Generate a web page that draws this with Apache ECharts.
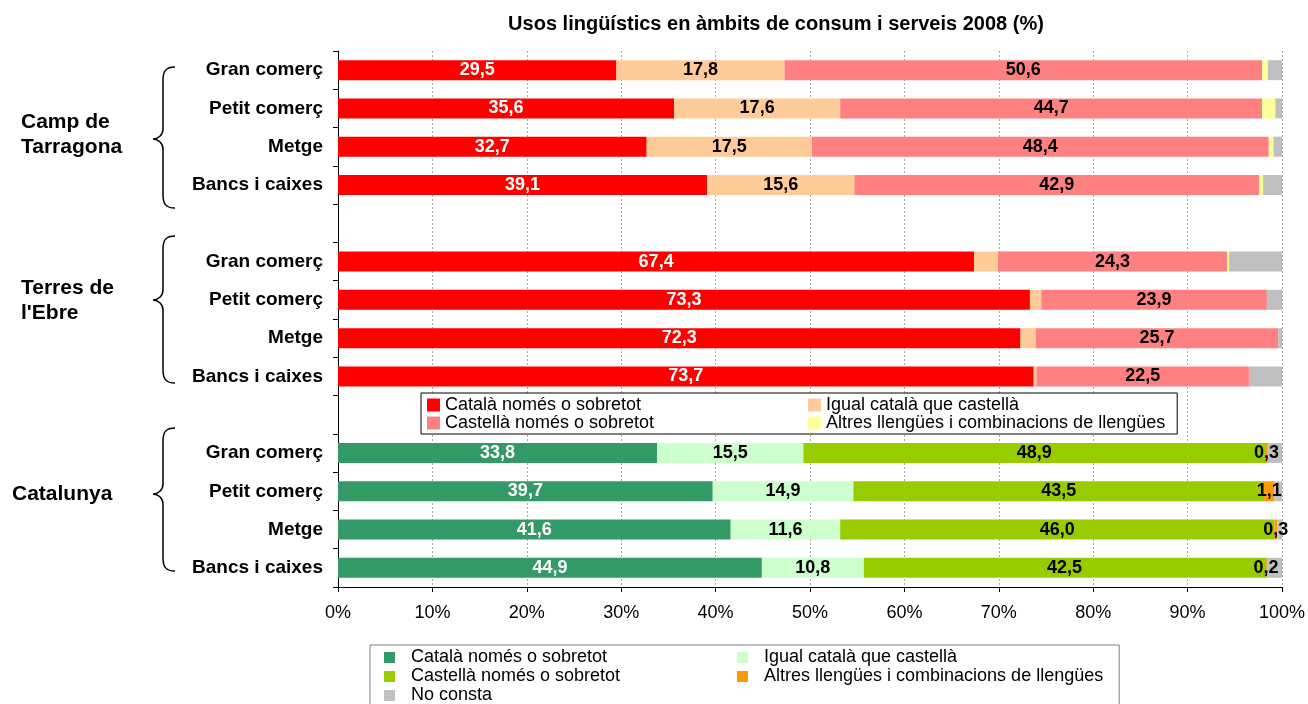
<!DOCTYPE html>
<html>
<head>
<meta charset="utf-8">
<script src="https://cdn.jsdelivr.net/npm/echarts@6/dist/echarts.min.js"></script>
<style>
html,body{margin:0;padding:0;background:#fff;}
#c{width:1308px;height:704px;}
</style>
</head>
<body>
<div id="c"></div>
<script>
// ---------- data ----------
const chartTitle = 'Usos lingüístics en àmbits de consum i serveis 2008 (%)';
const groupNames = ['Camp de\nTarragona', "Terres de\nl'Ebre", 'Catalunya'];
const categories = [
  'Gran comerç', 'Petit comerç', 'Metge', 'Bancs i caixes', '',
  'Gran comerç', 'Petit comerç', 'Metge', 'Bancs i caixes', '',
  'Gran comerç', 'Petit comerç', 'Metge', 'Bancs i caixes'
];

const legendNamesRegional = ['Català només o sobretot', 'Igual català que castellà', 'Castellà només o sobretot', 'Altres llengües i combinacions de llengües'];
const legendNamesCatalunya = ['Català només o sobretot', 'Igual català que castellà', 'Castellà només o sobretot', 'Altres llengües i combinacions de llengües', 'No consta'];

// Camp de Tarragona + Terres de l'Ebre rows
const catalaRegional   = [29.5, 35.6, 32.7, 39.1, null, 67.4, 73.3, 72.3, 73.7, null, null, null, null, null];
const igualRegional    = [17.8, 17.6, 17.5, 15.6, null,  2.5,  1.2,  1.6,  0.3, null, null, null, null, null];
const castellaRegional = [50.6, 44.7, 48.4, 42.9, null, 24.3, 23.9, 25.7, 22.5, null, null, null, null, null];
const altresRegional   = [ 0.6,  1.4,  0.5,  0.4, null,  0.2,  0.0,  0.0,  0.0, null, null, null, null, null];
// Catalunya rows
const catalaCat   = [null, null, null, null, null, null, null, null, null, null, 33.8, 39.7, 41.6, 44.9];
const igualCat    = [null, null, null, null, null, null, null, null, null, null, 15.5, 14.9, 11.6, 10.8];
const castellaCat = [null, null, null, null, null, null, null, null, null, null, 48.9, 43.5, 46.0, 42.5];
const altresCat   = [null, null, null, null, null, null, null, null, null, null,  0.3,  1.1,  0.3,  0.2];
// No consta (all rows)
const noConsta    = [1.5, 0.7, 0.9, 2.0, null, 5.6, 1.6, 0.4, 3.5, null, 1.5, 0.8, 0.5, 1.6];

// ---------- chart ----------
const FONT = '"Liberation Sans", Arial, Helvetica, sans-serif';
const axisKeys = categories.map((c, i) => i + '|' + c);
const fmt = v => v.toFixed(1).replace('.', ',');

const nameMap = {
  r0: legendNamesRegional[0], r1: legendNamesRegional[1], r2: legendNamesRegional[2], r3: legendNamesRegional[3],
  c0: legendNamesCatalunya[0], c1: legendNamesCatalunya[1], c2: legendNamesCatalunya[2], c3: legendNamesCatalunya[3],
  nc: legendNamesCatalunya[4]
};

function lbl(color, minVal) {
  return {
    show: true,
    position: 'inside',
    color: color,
    fontFamily: FONT,
    fontWeight: 'bold',
    fontSize: 18,
    formatter: p => (p.value == null || p.value < minVal) ? '' : fmt(p.value)
  };
}
function bar(id, data, color, label) {
  return {
    type: 'bar', name: id, stack: 'total', data: data, barWidth: 20,
    itemStyle: { color: color, borderWidth: 0 },
    label: label || { show: false },
    emphasis: { disabled: true },
    animation: false
  };
}

// curly brace decoration shape
echarts.graphic.registerShape('brace', echarts.graphic.extendShape({
  shape: { yt: 0, ym: 0, yb: 0, xr: 175, xl: 163, xt: 153 },
  buildPath: function (ctx, s) {
    const xr = s.xr, xl = s.xl, xt = s.xt, yt = s.yt, ym = s.ym, yb = s.yb;
    ctx.moveTo(xr, yt);
    ctx.bezierCurveTo(xl + 3, yt, xl, yt + 4, xl, yt + 13);
    ctx.lineTo(xl, ym - 10);
    ctx.bezierCurveTo(xl, ym - 4, xt + 5, ym, xt, ym);
    ctx.bezierCurveTo(xt + 5, ym, xl, ym + 4, xl, ym + 10);
    ctx.lineTo(xl, yb - 13);
    ctx.bezierCurveTo(xl, yb - 4, xl + 3, yb, xr, yb);
  }
}));

const chart = echarts.init(document.getElementById('c'), null, { renderer: 'canvas' });
const option = {
  backgroundColor: '#fff',
  animation: false,
  textStyle: { fontFamily: FONT },
  grid: { left: 338, right: 26, top: 51, bottom: 117, containLabel: false },
  xAxis: {
    type: 'value', min: 0, max: 100, interval: 10,
    axisLine: { show: true, lineStyle: { color: '#000', width: 1 } },
    axisTick: { show: true, length: 5, lineStyle: { color: '#000' } },
    axisLabel: { formatter: '{value}%', color: '#000', fontSize: 18, fontFamily: FONT, margin: 17 },
    splitLine: { show: true, lineStyle: { color: '#a8a8a8', type: [2, 2], width: 1 } }
  },
  yAxis: {
    type: 'category', inverse: true, data: axisKeys,
    axisLine: { show: true, lineStyle: { color: '#000', width: 1 } },
    axisTick: { show: true, length: 5, lineStyle: { color: '#000' } },
    axisLabel: {
      formatter: v => v.split('|')[1], color: '#000', fontSize: 19, fontWeight: 'bold',
      fontFamily: FONT, margin: 15
    },
    splitLine: { show: false }
  },
  legend: [
    {
      left: 421, top: 393, width: 770, orient: 'horizontal',
      padding: [3, 12, 2, 6], itemGap: 0, itemWidth: 13, itemHeight: 13, icon: 'rect',
      backgroundColor: '#fff', borderColor: '#000', borderWidth: 1, borderRadius: 0,
      selectedMode: false,
      itemStyle: { borderWidth: 0 },
      textStyle: { fontSize: 18, color: '#000', fontFamily: FONT, lineHeight: 18 },
      formatter: n => nameMap[n],
      data: [
        { name: 'r0', textStyle: { width: 363 } }, { name: 'r1' },
        { name: 'r2', textStyle: { width: 363 } }, { name: 'r3' }
      ]
    },
    {
      left: 370, top: 645, width: 740, orient: 'horizontal',
      padding: [3, 16, 3, 14], itemGap: 0, itemWidth: 11, itemHeight: 11, icon: 'rect',
      backgroundColor: '#fff', borderColor: '#808080', borderWidth: 1, borderRadius: 0,
      selectedMode: false,
      itemStyle: { borderWidth: 0 },
      textStyle: { fontSize: 18, color: '#000', fontFamily: FONT, lineHeight: 19, padding: [0, 0, 0, 11] },
      formatter: n => nameMap[n],
      data: [
        { name: 'c0', textStyle: { width: 326 } }, { name: 'c1' },
        { name: 'c2', textStyle: { width: 326 } }, { name: 'c3' },
        { name: 'nc' }
      ]
    }
  ],
  series: [
    bar('r0', catalaRegional, '#FF0000', lbl('#fff', 0)),
    bar('r1', igualRegional, '#FFCC99', lbl('#000', 5)),
    bar('r2', castellaRegional, '#FF8080', lbl('#000', 0)),
    bar('r3', altresRegional, '#FFFF99'),
    bar('c0', catalaCat, '#339966', lbl('#fff', 0)),
    bar('c1', igualCat, '#CCFFCC', lbl('#000', 0)),
    bar('c2', castellaCat, '#99CC00', lbl('#000', 0)),
    bar('c3', altresCat, '#FF9900', lbl('#000', 0)),
    bar('nc', noConsta, '#C0C0C0')
  ],
  graphic: [
    { type: 'text', x: 776, y: 24, silent: true,
      style: { text: chartTitle, fill: '#000', font: 'bold 20px ' + FONT, align: 'center', verticalAlign: 'middle' } },
    { type: 'text', x: 21, y: 135, silent: true,
      style: { text: groupNames[0], fill: '#000', font: 'bold 21px ' + FONT, lineHeight: 25, align: 'left', verticalAlign: 'middle' } },
    { type: 'text', x: 21, y: 301, silent: true,
      style: { text: groupNames[1], fill: '#000', font: 'bold 21px ' + FONT, lineHeight: 25, align: 'left', verticalAlign: 'middle' } },
    { type: 'text', x: 12, y: 494, silent: true,
      style: { text: groupNames[2], fill: '#000', font: 'bold 21px ' + FONT, lineHeight: 25, align: 'left', verticalAlign: 'middle' } },
    { type: 'brace', silent: true, shape: { yt: 67, ym: 139, yb: 208 },
      style: { stroke: '#000', fill: null, lineWidth: 1.5 } },
    { type: 'brace', silent: true, shape: { yt: 236, ym: 300, yb: 383 },
      style: { stroke: '#000', fill: null, lineWidth: 1.5 } },
    { type: 'brace', silent: true, shape: { yt: 428, ym: 494, yb: 571 },
      style: { stroke: '#000', fill: null, lineWidth: 1.5 } }
  ]
};
chart.setOption(option);
</script>
</body>
</html>
